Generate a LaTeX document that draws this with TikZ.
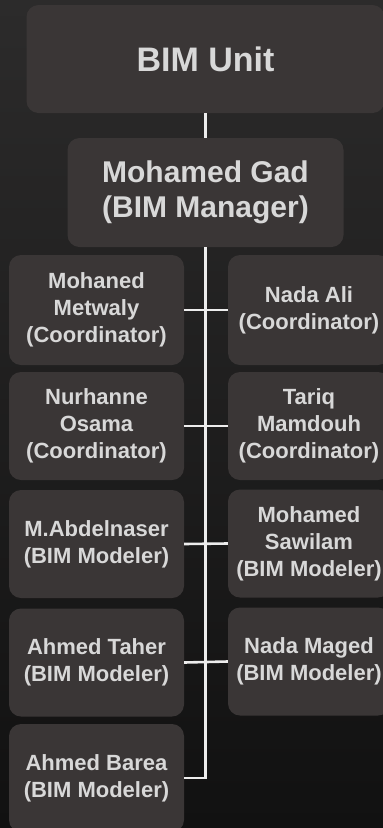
\documentclass[tikz,border=0pt]{standalone}
\usepackage{fontspec}
\setmainfont{Liberation Sans}
\definecolor{bgtop}{HTML}{2C2B2B}
\definecolor{bgbot}{HTML}{111111}
\definecolor{boxc}{HTML}{3A3636}
\definecolor{txtc}{HTML}{D8D8D8}
\definecolor{linec}{HTML}{EDEDED}
\begin{document}
\begin{tikzpicture}[x=1pt,y=-1pt,
  box/.style={rectangle, rounded corners=12pt, fill=boxc, text=txtc, inner sep=0pt, align=center},
  sidebox/.style={box, minimum width=175pt, minimum height=108pt, font=\bfseries\fontsize{22}{27}\selectfont},
  rightbox/.style={sidebox, minimum width=162pt},
  link/.style={draw=linec, line width=2.6pt}]
\useasboundingbox (0,0) rectangle (383,828);
\shade[top color=bgtop, bottom color=bgbot] (0,0) rectangle (383,828);
\node[box, minimum width=358pt, minimum height=108pt, font=\bfseries\fontsize{34}{40}\selectfont] (unit) at (205.5,59) {BIM Unit};
\node[box, minimum width=276pt, minimum height=109pt, font=\bfseries\fontsize{30}{35}\selectfont] (mgr) at (205.5,192.5) {Mohamed Gad\\(BIM Manager)};
\node[sidebox, minimum height=110pt] (l1) at (96.5,310) {Mohaned\\Metwaly\\(Coordinator)};
\node[rightbox, minimum height=110pt] (r1) at (309,310) {Nada Ali\\(Coordinator)};
\node[sidebox] (l2) at (96.5,426) {Nurhanne\\Osama\\(Coordinator)};
\node[rightbox] (r2) at (309,426) {Tariq\\Mamdouh\\(Coordinator)};
\node[sidebox] (l3) at (96.5,544) {M.Abdelnaser\\(BIM Modeler)};
\node[rightbox] (r3) at (309,543.5) {Mohamed\\Sawilam\\(BIM Modeler)};
\node[sidebox] (l4) at (96.5,662.5) {Ahmed Taher\\(BIM Modeler)};
\node[rightbox] (r4) at (309,661.5) {Nada Maged\\(BIM Modeler)};
\node[sidebox] (l5) at (96.5,778) {Ahmed Barea\\(BIM Modeler)};
\draw[link] (unit.south) -- (mgr.north);
\draw[link] (mgr.south) |- (l5.east);
\draw[link] (l1.east) -- (r1.west);
\draw[link] (l2.east) -- (r2.west);
\draw[link] (l3.east) -- (r3.west);
\draw[link] (l4.east) -- (r4.west);
\end{tikzpicture}
\end{document}
